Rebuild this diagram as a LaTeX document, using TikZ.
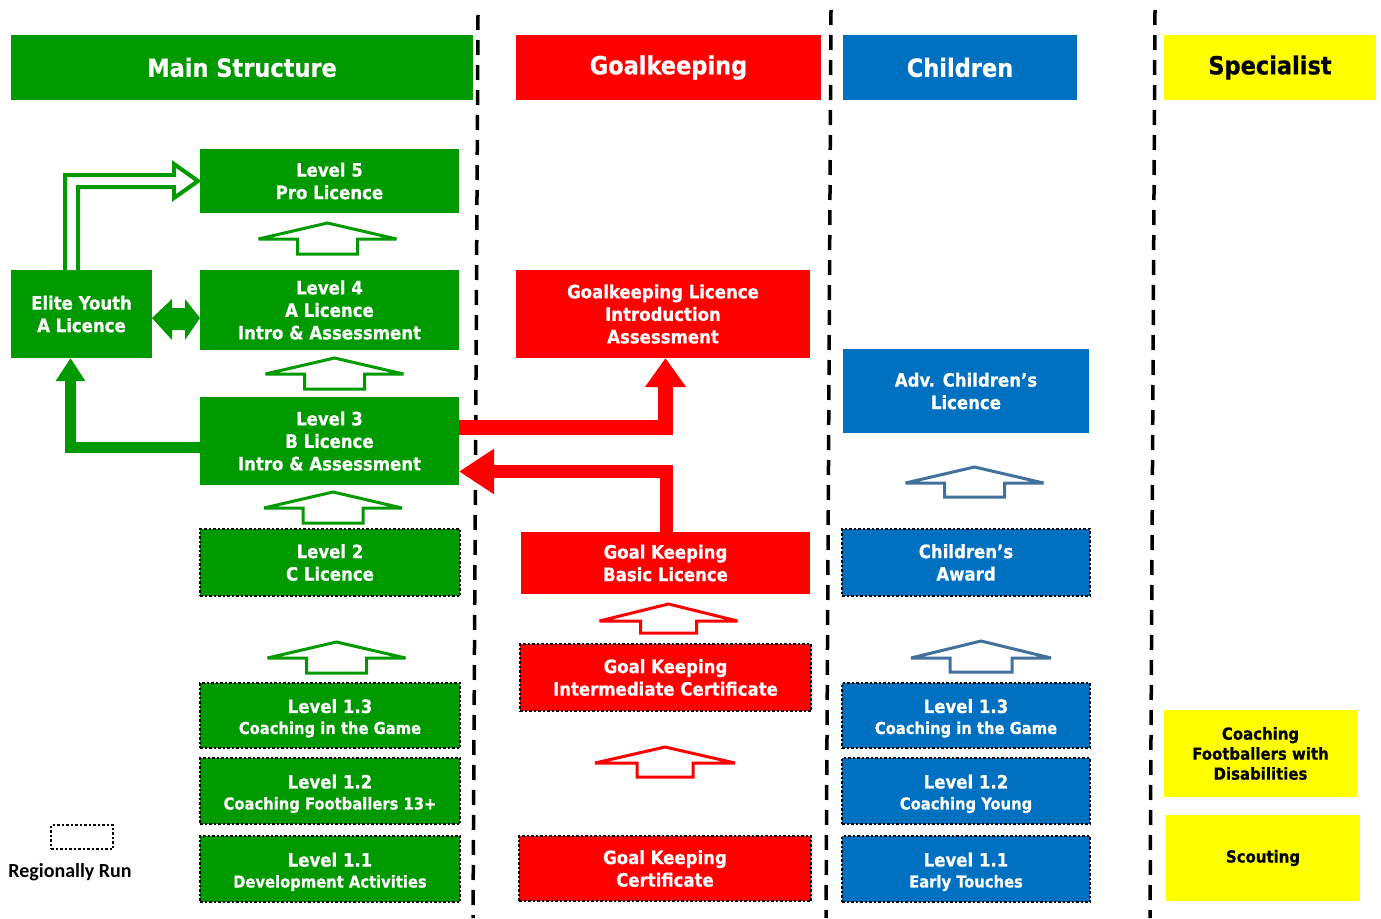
\documentclass[tikz,border=0pt]{standalone}
\usepackage{fontspec}
\setmainfont{DejaVu Sans Condensed}[BoldFeatures={FakeBold=0.6}]
\newfontfamily\calibrifont{Carlito}
\usetikzlibrary{arrows.meta,calc}
\definecolor{fagreen}{RGB}{0,153,0}
\definecolor{fared}{RGB}{255,0,0}
\definecolor{fablue}{RGB}{0,112,192}
\definecolor{fayellow}{RGB}{255,255,0}
\definecolor{arrowblue}{RGB}{65,113,156}
\tikzset{
 box/.style={inner sep=0pt, outer sep=0pt, align=center, text=white, font=\bfseries\fontsize{18.4}{22.5}\selectfont},
 gbox/.style={box, fill=fagreen},
 rbox/.style={box, fill=fared},
 bbox/.style={box, fill=fablue},
 ybox/.style={box, fill=fayellow, text=black, font=\bfseries\fontsize{16.6}{20}\selectfont},
 regional/.style={draw=black, line width=2.5pt, dash pattern=on 2.5pt off 2pt},
 header/.style={inner sep=0pt, outer sep=0pt, text=white, font=\bfseries\fontsize{25}{30}\selectfont},
 sepline/.style={line width=3.5pt, dash pattern=on 15pt off 10pt},
 hollow/.style={fill=white, line width=3pt, line join=miter, miter limit=4},
}
\newcommand\lvltwo[2]{\rule{0pt}{19.5pt}#1\\[-1.5pt]{\fontsize{16.4}{20}\selectfont #2}}
\newcommand\hollowup[7]{%
 \filldraw[hollow,draw=#3] (#1,#2) -- ++(-#4,#6) -- ++({#4-#5},0) -- ++(0,#7) -- ++({2*#5},0) -- ++(0,-#7) -- ++({#4-#5},0) -- cycle;}
\begin{document}
\begin{tikzpicture}[x=1pt,y=-1pt]
\useasboundingbox[fill=white] (0,0) rectangle (1381,918);
% separators
\draw[sepline] (478,15) -- (473,918);
\draw[sepline] (831,10) -- (826,918);
\draw[sepline] (1155,10) -- (1150,918);
% headers
\node[header, fill=fagreen, minimum width=462pt, minimum height=65pt] (hms) at (242,67.5) {Main Structure};
\node[header, fill=fared, minimum width=305pt, minimum height=65pt] (hgk) at (668.5,67.5) {Goalkeeping};
\node[header, fill=fablue, minimum width=234pt, minimum height=65pt] (hch) at (960,67.5) {Children};
\node[header, fill=fayellow, text=black, minimum width=212pt, minimum height=65pt] (hsp) at (1270,67.5) {Specialist};
% main structure
\node[gbox, minimum width=259pt, minimum height=64pt] (l5) at (329.5,181) {Level 5\\Pro Licence};
\node[gbox, minimum width=259pt, minimum height=80pt] (l4) at (329.5,310) {Level 4\\A Licence\\Intro \& Assessment};
\node[gbox, minimum width=141pt, minimum height=88pt] (elite) at (81.5,314) {Elite Youth\\A Licence};
\node[gbox, minimum width=259pt, minimum height=88pt] (l3) at (329.5,441) {Level 3\\B Licence\\Intro \& Assessment};
\node[gbox, regional, minimum width=260pt, minimum height=67pt] (l2) at (330,562.5) {Level 2\\C Licence};
\node[gbox, regional, minimum width=260pt, minimum height=65pt] (l13) at (330,715.5) {\lvltwo{Level 1.3}{Coaching in the Game}};
\node[gbox, regional, minimum width=260pt, minimum height=66pt] (l12) at (330,791) {\lvltwo{Level 1.2}{Coaching Footballers 13+}};
\node[gbox, regional, minimum width=260pt, minimum height=66pt] (l11) at (330,869) {\lvltwo{Level 1.1}{Development Activities}};
% goalkeeping
\node[rbox, minimum width=294pt, minimum height=88pt] (gki) at (663,314) {Goalkeeping Licence\\Introduction\\Assessment};
\node[rbox, minimum width=289pt, minimum height=62pt] (gkb) at (665.5,563) {Goal Keeping\\Basic Licence};
\node[rbox, regional, minimum width=291pt, minimum height=67pt] (gkm) at (665.5,677.5) {Goal Keeping\\Intermediate Certificate};
\node[rbox, regional, minimum width=292pt, minimum height=65pt] (gkc) at (665,868.5) {Goal Keeping\\Certificate};
% children
\node[bbox, minimum width=246pt, minimum height=84pt] (adv) at (966,391) {Adv. Children’s\\Licence};
\node[bbox, regional, minimum width=248pt, minimum height=67pt] (caw) at (966,562.5) {Children’s\\Award};
\node[bbox, regional, minimum width=248pt, minimum height=65pt] (b13) at (966,715.5) {\lvltwo{Level 1.3}{Coaching in the Game}};
\node[bbox, regional, minimum width=248pt, minimum height=66pt] (b12) at (966,791) {\lvltwo{Level 1.2}{Coaching Young}};
\node[bbox, regional, minimum width=248pt, minimum height=66pt] (b11) at (966,869) {\lvltwo{Level 1.1}{Early Touches}};
% specialist
\node[ybox, minimum width=193pt, minimum height=87pt] (ycfd) at (1260.5,753.5) {Coaching\\Footballers with\\Disabilities};
\node[ybox, minimum width=194pt, minimum height=86pt] (ysc) at (1263,858) {Scouting};
% legend
\node[regional, inner sep=0pt, outer sep=0pt, minimum width=62pt, minimum height=24pt] (leg) at (82,837) {};
\node[inner sep=0pt, font=\calibrifont\bfseries\fontsize{20}{24}\selectfont] (legtext) at (70,872) {Regionally Run};
% hollow up arrows
\hollowup{327.5}{223}{fagreen}{69}{30}{16}{15}
\hollowup{334.5}{358}{fagreen}{69}{30}{16}{15}
\hollowup{333}{492}{fagreen}{69}{30}{16}{15}
\hollowup{336.5}{642}{fagreen}{69}{30}{16}{15}
\hollowup{668.5}{604}{fared}{69}{28}{17}{12}
\hollowup{665}{747}{fared}{70}{28}{16}{14}
\hollowup{974.5}{467}{arrowblue}{69}{30}{16}{14}
\hollowup{981}{641}{arrowblue}{70}{31}{17}{14}
% connectors
\draw[line width=11pt, fagreen, line join=miter, -{Triangle[width=28pt,length=23pt]}] ([yshift=-6.5pt]l3.west) -| ([xshift=-11pt]elite.south);
\draw[line width=15pt, fared, line join=miter, -{Triangle[width=39pt,length=29pt]}] ([yshift=13.5pt]l3.east) -| ([xshift=2.5pt]gki.south);
\draw[line width=13pt, fared, line join=miter, -{Triangle[width=43pt,length=35pt]}] ([xshift=1pt]gkb.north) |- ([yshift=-30.5pt]l3.east);
\filldraw[fill=white, draw=fagreen, line width=4pt, line join=miter] ([xshift=-16.5pt]elite.north) -- ++(0,-95) -- ++(109,0) -- ++(0,-11) -- ([xshift=-2pt]l5.west) -- ++(-24,17) -- ++(0,-11) -- ++(-96,0) -- ++(0,83);
\fill[fagreen] ([yshift=-4pt]elite.east) -- ++(20,-19) -- ++(0,9) -- ++(13,0) -- ++(0,-9) -- ([yshift=-8pt]l4.west) -- ++(-15,22) -- ++(0,-10) -- ++(-13,0) -- ++(0,10) -- cycle;
\end{tikzpicture}
\end{document}
